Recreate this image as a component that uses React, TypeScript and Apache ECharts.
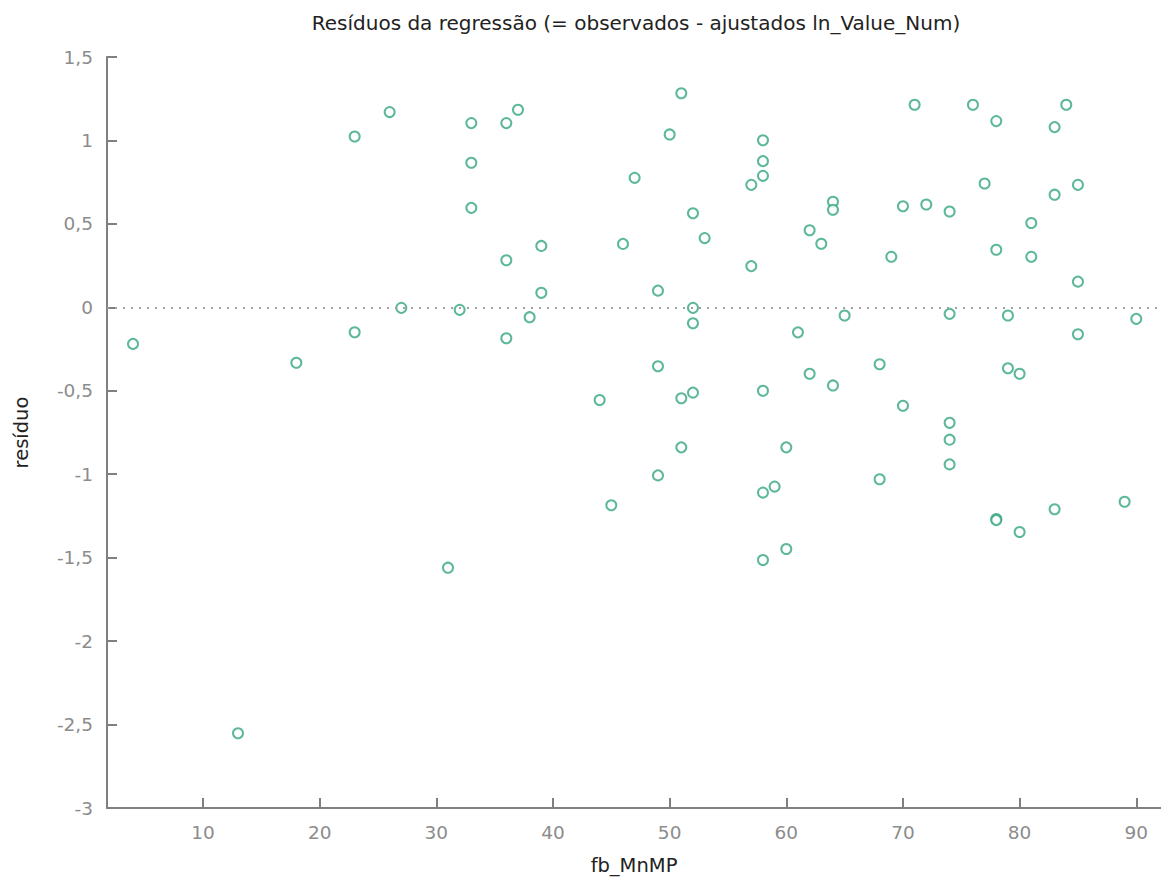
import React, { useEffect, useRef } from "react";
import * as echarts from "echarts";

const titleText = "Resíduos da regressão (= observados - ajustados ln_Value_Num)";
const xName = "fb_MnMP";
const yName = "resíduo";

const fbMnMP = [
  4, 13, 18, 23, 23, 26, 27, 31, 32, 33, 33, 33, 36, 36, 36, 37, 38, 39, 39,
  44, 45, 46, 47, 49, 49, 49, 50, 51, 51, 51, 52, 52, 52, 52, 53, 57, 57,
  58, 58, 58, 58, 58, 58, 59, 60, 60, 61, 62, 62, 63, 64, 64, 64, 65,
  68, 68, 69, 70, 70, 71, 72, 74, 74, 74, 74, 74, 76, 77, 78, 78, 78, 78,
  79, 79, 80, 80, 81, 81, 83, 83, 83, 84, 85, 85, 85, 89, 90,
];

const residuo = [
  -0.219, -2.552, -0.332, 1.024, -0.149, 1.17, -0.003, -1.56, -0.015, 1.104,
  0.866, 0.596, 1.104, 0.282, -0.185, 1.184, -0.059, 0.368, 0.087,
  -0.555, -1.186, 0.38, 0.776, 0.1, -0.353, -1.007, 1.036, 1.283, -0.545,
  -0.839, 0.564, -0.003, -0.095, -0.511, 0.415, 0.734, 0.247,
  1.001, 0.876, 0.788, -0.5, -1.11, -1.514, -1.074, -0.839, -1.448, -0.15,
  0.462, -0.398, 0.381, 0.633, 0.585, -0.468, -0.049,
  -0.341, -1.03, 0.303, 0.606, -0.59, 1.214, 0.616, 0.574, -0.039, -0.692,
  -0.793, -0.941, 1.214, 0.742, 1.116, 0.345, -1.268, -1.275,
  -0.049, -0.365, -0.398, -1.346, 0.505, 0.303, 1.08, 0.675, -1.21, 1.214,
  0.734, 0.154, -0.161, -1.165, -0.069,
];

const xTicks = [10, 20, 30, 40, 50, 60, 70, 80, 90];

export default function App() {
  const ref = useRef<HTMLDivElement>(null);
  useEffect(() => {
    if (!ref.current) return;
    const chart = echarts.init(ref.current, null, { renderer: "svg" });
    const data = fbMnMP.map((x, i) => [x, residuo[i]]);
    const font = "'DejaVu Sans', Verdana, sans-serif";
    chart.setOption({
      animation: false,
      backgroundColor: "#ffffff",
      title: {
        text: titleText,
        left: 631,
        textAlign: "center",
        top: 8,
        textStyle: { fontFamily: font, fontSize: 20, fontWeight: "normal", color: "#222" },
      },
      grid: { left: 107, right: 0, top: 57, bottom: 73 },
      xAxis: {
        type: "value",
        min: 1.77,
        max: 92.12,
        name: xName,
        nameLocation: "middle",
        nameGap: 47,
        nameTextStyle: { fontFamily: font, fontSize: 19.5, color: "#222" },
        axisLine: { show: true, onZero: false, lineStyle: { color: "#808080", width: 2 } },
        axisTick: { show: true, inside: true, length: 10, customValues: xTicks, lineStyle: { color: "#808080", width: 2 } },
        axisLabel: { customValues: xTicks, margin: 15, fontFamily: font, fontSize: 18.5, color: "#8c8c8c" },
        splitLine: { show: false },
      },
      yAxis: {
        type: "value",
        min: -3,
        max: 1.5,
        interval: 0.5,
        name: yName,
        nameLocation: "middle",
        nameGap: 76,
        nameTextStyle: { fontFamily: font, fontSize: 19.5, color: "#222" },
        axisLine: { show: true, onZero: false, lineStyle: { color: "#808080", width: 2 } },
        axisTick: { show: true, inside: true, length: 10, lineStyle: { color: "#808080", width: 2 } },
        axisLabel: {
          margin: 14,
          fontFamily: font,
          fontSize: 18.5,
          color: "#8c8c8c",
          formatter: (v: number) => String(v).replace(".", ","),
        },
        splitLine: { show: false },
      },
      series: [
        {
          type: "scatter",
          data,
          symbol: "circle",
          symbolSize: 10,
          itemStyle: { color: "#ffffff", borderColor: "#33a67e", borderWidth: 2 },
          markLine: {
            silent: true,
            symbol: "none",
            label: { show: false },
            lineStyle: { color: "#a0a0a0", type: [2, 6], width: 2 },
            data: [{ yAxis: 0 }],
          },
          z: 3,
        },
      ],
    });
    return () => chart.dispose();
  }, []);
  return <div ref={ref} style={{ width: 1161, height: 881, position: "absolute", left: 0, top: 0 }} />;
}
